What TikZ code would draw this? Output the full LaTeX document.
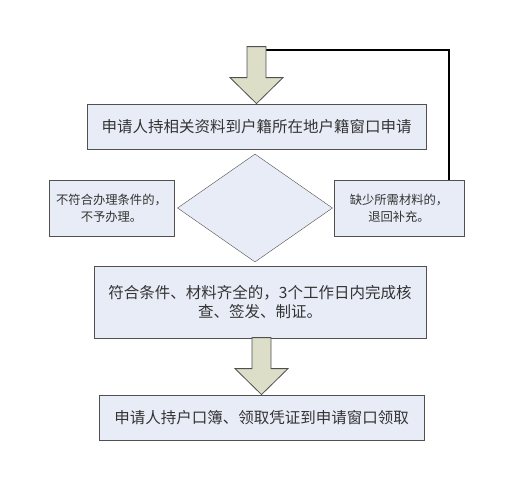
\documentclass[tikz,border=0pt]{standalone}
\usepackage{fontspec}
\newfontfamily\cjk{Noto Sans CJK SC}
\usetikzlibrary{shapes.geometric}

\definecolor{boxfill}{HTML}{E8ECF6}
\definecolor{boxline}{HTML}{505050}
\definecolor{arrowfill}{HTML}{DCDEC8}
\definecolor{textgray}{HTML}{333333}

\tikzset{
  flowbox/.style={draw=boxline, fill=boxfill, thick, inner sep=0pt,
    text=textgray, align=center, font=\cjk\fontsize{15.5}{19}\selectfont},
  sidebox/.style={flowbox, font=\cjk\fontsize{12.3}{17}\selectfont},
  choice/.style={draw=boxline, fill=boxfill, diamond, inner sep=0pt},
  blockarrow/.style={draw=boxline, fill=arrowfill, thick, line join=miter}
}

% down block arrow, tip at #1
\newcommand\downblock[1]{
  \draw[blockarrow] (#1) -- ++(-26.5,-26) -- ++(17,0) -- ++(0,-31)
    -- ++(19,0) -- ++(0,31) -- ++(17,0) -- cycle;
}

\begin{document}
\begin{tikzpicture}[x=1pt,y=-1pt]

  \useasboundingbox (0,0) rectangle (513,485);

  \node[flowbox, minimum width=339pt, minimum height=45pt] (apply) at (256.5,126.5)
    {申请人持相关资料到户籍所在地户籍窗口申请};

  \node[choice, minimum width=155pt, minimum height=108pt] (check) at (255,208) {};

  \node[sidebox, minimum width=125pt, minimum height=56pt] (refuse) at (111.5,208)
    {不符合办理条件的，\\不予办理。};
  \node[sidebox, minimum width=130pt, minimum height=56pt] (lack) at (399,208)
    {缺少所需材料的，\\退回补充。};

  \node[flowbox, minimum width=332pt, minimum height=72pt] (issue) at (260,302)
    {符合条件、材料齐全的，3个工作日内完成核\\查、签发、制证。};

  \node[flowbox, minimum width=325pt, minimum height=45pt] (collect) at (261.5,417.5)
    {申请人持户口簿、领取凭证到申请窗口领取};

  % feedback line from the right box back to the top
  \coordinate (stem) at (264,50);
  \coordinate (loop) at (449,50);
  \draw[line width=2.6pt] (lack.north -| loop) |- (stem);

  \downblock{apply.north}
  \downblock{collect.north}

\end{tikzpicture}
\end{document}
